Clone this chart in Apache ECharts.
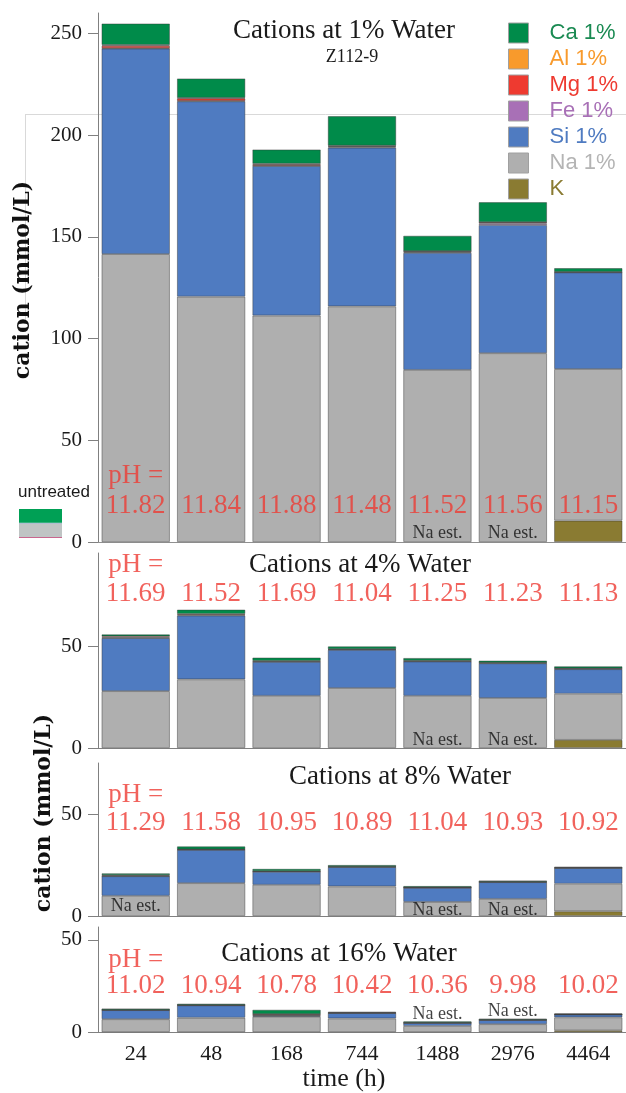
<!DOCTYPE html>
<html><head><meta charset="utf-8">
<script src="https://cdn.jsdelivr.net/npm/echarts@6/dist/echarts.min.js"></script>
<style>html,body{margin:0;padding:0;background:#fff}#c{width:626px;height:1093px}</style>
</head><body><div id="c"></div><script>
// ---------------- data ----------------
const categories = ['24', '48', '168', '744', '1488', '2976', '4464'];
const stackOrder = ['K', 'Na 1%', 'Si 1%', 'Fe 1%', 'Mg 1%', 'Al 1%', 'Ca 1%']; // bottom -> top
const legendOrder = ['Ca 1%', 'Al 1%', 'Mg 1%', 'Fe 1%', 'Si 1%', 'Na 1%', 'K'];
const panelTitles = ['Cations at 1% Water', 'Cations at 4% Water', 'Cations at 8% Water', 'Cations at 16% Water'];
const subTitle = 'Z112-9';
const yTicks1 = [0, 50, 100, 150, 200, 250];
const yTicksLow = [0, 50];

// 1% water
const k1  = [0, 0, 0, 0, 0, 0, 10.5];
const na1 = [141.5, 120.6, 111.3, 115.8, 84.6, 92.8, 74.5];
const si1 = [101.0, 96.0, 73.5, 78.0, 57.5, 63.0, 47.5];
const fe1 = [0.2, 0.2, 0.2, 0.4, 0.4, 0.8, 0.1];
const mg1 = [1.2, 1.2, 0.6, 0.4, 0.4, 0.5, 0.2];
const al1 = [0.4, 0.3, 0.3, 0.2, 0.1, 0.1, 0];
const ca1 = [10.5, 9.5, 7.0, 14.5, 7.5, 9.8, 1.8];
const ph1 = [11.82, 11.84, 11.88, 11.48, 11.52, 11.56, 11.15];
const naEst1 = ['1488', '2976'];

// 4% water
const k4  = [0, 0, 0, 0, 0, 0, 4.0];
const na4 = [28.0, 33.8, 25.7, 29.5, 25.7, 24.6, 22.7];
const si4 = [26.1, 31.4, 16.7, 18.8, 16.9, 17.1, 12.1];
const fe4 = [0.3, 0.3, 0.2, 0.2, 0.2, 0.2, 0.2];
const mg4 = [0.6, 0.5, 0.3, 0.2, 0.2, 0.1, 0.2];
const al4 = [0, 0, 0, 0, 0, 0, 0];
const ca4 = [0.9, 2.1, 1.6, 1.3, 1.3, 1.0, 1.0];
const ph4 = [11.69, 11.52, 11.69, 11.04, 11.25, 11.23, 11.13];
const naEst4 = ['1488', '2976'];

// 8% water
const k8  = [0, 0, 0, 0, 0, 0, 2.3];
const na8 = [9.9, 16.1, 15.3, 14.5, 6.9, 8.4, 13.5];
const si8 = [9.6, 16.3, 6.4, 9.5, 6.9, 8.2, 7.7];
const fe8 = [0.1, 0.1, 0.1, 0.1, 0.1, 0.1, 0.1];
const mg8 = [0.4, 0.2, 0.2, 0.1, 0.1, 0.1, 0.1];
const al8 = [0, 0, 0, 0, 0, 0, 0];
const ca8 = [0.9, 1.4, 1.1, 0.8, 0.7, 0.6, 0.4];
const ph8 = [11.29, 11.58, 10.95, 10.89, 11.04, 10.93, 10.92];
const naEst8 = ['24', '1488', '2976'];

// 16% water
const k16  = [0, 0, 0, 0, 0, 0, 1.0];
const na16 = [7.0, 7.8, 8.3, 7.4, 3.3, 4.3, 7.0];
const si16 = [4.9, 6.7, 0.5, 2.9, 1.6, 2.2, 1.5];
const fe16 = [0.1, 0.1, 0.3, 0.1, 0.1, 0.1, 0.1];
const mg16 = [0.1, 0.1, 0.5, 0.1, 0.1, 0.1, 0.1];
const al16 = [0, 0, 0.2, 0, 0, 0, 0];
const ca16 = [0.7, 0.7, 2.3, 0.5, 0.7, 0.6, 0.4];
const ph16 = [11.02, 10.94, 10.78, 10.42, 10.36, 9.98, 10.02];
const naEst16 = ['1488', '2976'];

// untreated inset (relative amounts, bottom -> top)
const untreatedNames = ['Mg', 'Na', 'Si', 'Ca'];
const untreatedVals = [1.0, 12.5, 0.6, 12.5];

// ---------------- styles / layout ----------------
const colors = {'K': '#8A7B32', 'Na 1%': '#AFAFAF', 'Si 1%': '#4F7BC1', 'Fe 1%': '#A870B6',
  'Mg 1%': '#EE3A30', 'Al 1%': '#F89A2C', 'Ca 1%': '#008B4A'};
const textColors = {'K': '#8A7B32', 'Na 1%': '#B4B4B4', 'Si 1%': '#4F7BC1', 'Fe 1%': '#A870B6',
  'Mg 1%': '#EE3A30', 'Al 1%': '#F89A2C', 'Ca 1%': '#1A8A52'};
const untreatedColors = ['#C8668E', '#BFC4C4', '#4F7BC1', '#00A055'];
const RED = '#EE3B33';
const SERIF = 'Liberation Serif';

const panelData = [
  {vals: [k1, na1, si1, fe1, mg1, al1, ca1], ph: ph1, est: naEst1, ticks: yTicks1},
  {vals: [k4, na4, si4, fe4, mg4, al4, ca4], ph: ph4, est: naEst4, ticks: yTicksLow},
  {vals: [k8, na8, si8, fe8, mg8, al8, ca8], ph: ph8, est: naEst8, ticks: yTicksLow},
  {vals: [k16, na16, si16, fe16, mg16, al16, ca16], ph: ph16, est: naEst16, ticks: yTicksLow}
];
// pixel layout of each panel: top of axis, zero line, axis max; label rows in px
const layout = [
  {top: 13,  zero: 542,  max: 260, titleX: 344, titleY: 31,  phEqY: 476, phY: 506, estY: [533, 533]},
  {top: 553, zero: 748,  max: 96,  titleX: 360, titleY: 565, phEqY: 565, phY: 594, estY: [740, 740]},
  {top: 763, zero: 916,  max: 75,  titleX: 400, titleY: 777, phEqY: 795, phY: 823, estY: [906, 910, 910]},
  {top: 927, zero: 1042, max: 57,  titleX: 339, titleY: 954, phEqY: 963, phY: 992, estY: [1023, 1019]}
];
const pxToVal = (L, py) => (L.zero - py) / (L.zero - L.top) * L.max;

const grids = [], xAxes = [], yAxes = [], series = [];
layout.forEach((L, i) => {
  grids.push({left: 98, right: 0, top: L.top, height: L.zero - L.top});
  xAxes.push({
    type: 'category', gridIndex: i, data: categories,
    axisLine: {lineStyle: {color: '#808080', width: 1}},
    axisTick: {length: i === 3 ? 11 : 9, lineStyle: {color: '#909090'}},
    axisLabel: {show: i === 3, fontFamily: SERIF, fontSize: 22, color: '#1a1a1a', margin: 11},
    name: i === 3 ? 'time (h)' : '', nameLocation: 'middle', nameGap: 28,
    nameTextStyle: {fontFamily: SERIF, fontSize: 26, color: '#1a1a1a', padding: [0, 36, 0, 0]}
  });
});
// top border of first panel
xAxes.push({type: 'category', gridIndex: 0, position: 'top', data: categories,
  axisLine: {show: true, lineStyle: {color: '#909090'}}, axisTick: {show: false}, axisLabel: {show: false}});
// inset axis
xAxes.push({type: 'category', gridIndex: 4, data: ['untreated'], show: false});

layout.forEach((L, i) => {
  const maj = panelData[i].ticks;
  yAxes.push({
    type: 'value', gridIndex: i, min: 0, max: L.max,
    axisLine: {show: true, lineStyle: {color: '#808080'}},
    axisTick: {show: true, length: 10, customValues: maj, lineStyle: {color: '#808080'}},
    axisLabel: {customValues: maj, margin: 16, fontFamily: SERIF, fontSize: 21, color: '#1a1a1a'},
    splitLine: {show: false}
  });
});
layout.forEach((L, i) => {
  const minors = [];
  for (let v = 10; v < L.max; v += 10) if (v % 50 !== 0) minors.push(v);
  yAxes.push({
    type: 'value', gridIndex: i, min: 0, max: L.max,
    axisLine: {show: false},
    axisTick: {show: true, length: 6, customValues: minors, lineStyle: {color: '#909090'}},
    axisLabel: {show: false}, splitLine: {show: false}
  });
});
// inset grid
grids.push({left: 19, top: 509, width: 43, height: 29});
yAxes.push({type: 'value', gridIndex: 4, min: 0, max: untreatedVals.reduce((a, b) => a + b, 0), show: false});

panelData.forEach((P, i) => {
  stackOrder.forEach((name, e) => {
    series.push({
      type: 'bar', name, xAxisIndex: i, yAxisIndex: i, stack: 'p' + i,
      barCategoryGap: '9.5%',
      data: P.vals[e].map(v => (v === 0 ? '-' : v)),
      itemStyle: {color: colors[name], borderColor: 'rgba(50,50,50,0.55)', borderWidth: 0.8},
      emphasis: {disabled: true}, silent: true, z: 2
    });
  });
  const L = layout[i];
  const labelSeries = (data, fmt, font, color) => ({
    type: 'scatter', xAxisIndex: i, yAxisIndex: i, data, symbolSize: 1,
    itemStyle: {color: 'rgba(0,0,0,0)'}, silent: true, z: 6,
    label: {show: true, position: 'inside', formatter: fmt, fontFamily: SERIF, fontSize: font, color}
  });
  series.push(labelSeries(P.ph.map((v, j) => [j, pxToVal(L, L.phY), v]), p => p.value[2].toFixed(2), 27, RED));
  series.push(labelSeries([[0, pxToVal(L, L.phEqY)]], () => 'pH =', 27, RED));
  series.push(labelSeries(P.est.map((c, k) => [categories.indexOf(c), pxToVal(L, L.estY[k])]), () => 'Na est.', 18, '#111'));
});
untreatedNames.forEach((n, k) => {
  series.push({type: 'bar', name: 'untreated ' + n, xAxisIndex: 5, yAxisIndex: 8, stack: 'u',
    barWidth: '100%', data: [untreatedVals[k]], itemStyle: {color: untreatedColors[k]}, silent: true});
});

const graphic = [
  // faint frame lines present in the source figure
  {type: 'line', z: -1, shape: {x1: 25, y1: 114.5, x2: 626, y2: 114.5}, style: {stroke: '#d9d9d9', lineWidth: 1}},
  {type: 'line', z: -1, shape: {x1: 25.5, y1: 114, x2: 25.5, y2: 320}, style: {stroke: '#d9d9d9', lineWidth: 1}},
  {type: 'text', style: {text: subTitle, x: 352, y: 57, font: '18px "Liberation Serif"', fill: '#1a1a1a', align: 'center', verticalAlign: 'middle'}},
  {type: 'text', style: {text: 'untreated', x: 54, y: 492, font: '17px "Liberation Sans"', fill: '#1a1a1a', align: 'center', verticalAlign: 'middle'}},
  {type: 'text', rotation: Math.PI / 2, x: 23, y: 280, style: {text: 'cation (mmol/L)', x: 0, y: 0, font: 'bold 22px "DejaVu Serif"', fill: '#111', align: 'center', verticalAlign: 'middle'}},
  {type: 'text', rotation: Math.PI / 2, x: 44, y: 813, style: {text: 'cation (mmol/L)', x: 0, y: 0, font: 'bold 22px "DejaVu Serif"', fill: '#111', align: 'center', verticalAlign: 'middle'}}
];
layout.forEach((L, i) => {
  graphic.push({type: 'text', z: 10, style: {text: panelTitles[i], x: L.titleX, y: L.titleY,
    font: '27px "Liberation Serif"', fill: '#1a1a1a', align: 'center', verticalAlign: 'middle'}});
});

const chart = echarts.init(document.getElementById('c'), null, {renderer: 'canvas'});
chart.setOption({
  animation: false,
  backgroundColor: '#fff',
  grid: grids, xAxis: xAxes, yAxis: yAxes, series, graphic,
  legend: {
    orient: 'vertical', left: 503, top: 17, itemWidth: 20, itemHeight: 20, itemGap: 4,
    icon: 'rect', selectedMode: false,
    itemStyle: {borderColor: '#a0a0a0', borderWidth: 1},
    data: legendOrder.map(n => ({name: n, textStyle: {color: textColors[n]}})),
    textStyle: {fontFamily: 'Liberation Sans', fontSize: 22, padding: [0, 0, 0, 16]}
  }
});
</script></body></html>
